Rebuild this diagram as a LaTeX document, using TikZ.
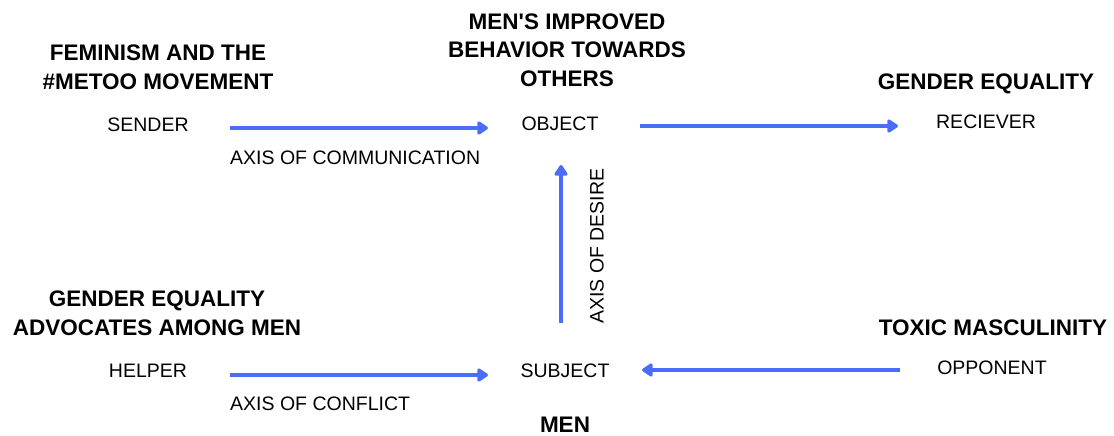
\documentclass[tikz,border=0pt]{standalone}
\usepackage{fontspec}
\setmainfont{Liberation Sans}
\usetikzlibrary{arrows.meta,calc}
\definecolor{axisblue}{RGB}{74,108,246}
\begin{document}
\begin{tikzpicture}[x=1pt,y=1pt,
  role/.style={inner sep=0pt,font=\fontsize{19.5}{23}\selectfont},
  actant/.style={inner sep=0pt,align=center,font=\bfseries\fontsize{22.5}{28.5}\selectfont},
  axislabel/.style={inner sep=0pt,font=\fontsize{19.5}{23}\selectfont},
  axis/.style={draw=axisblue,line width=4pt,-{Triangle[length=12pt,width=15pt,round]}}]
\useasboundingbox (0,0) rectangle (1114,436);

% actants and their roles
\node[actant] (objtitle) at (567,386) {MEN\textquotesingle S IMPROVED\\BEHAVIOR TOWARDS\\OTHERS};
\node[actant] (sendtitle) at (158,368.5) {FEMINISM AND THE\\\#METOO MOVEMENT};
\node[actant] (recvtitle) at (986,352) {GENDER EQUALITY};
\node[actant] (helptitle) at (157,122.5) {GENDER EQUALITY\\ADVOCATES AMONG MEN};
\node[actant] (opptitle) at (993,108) {TOXIC MASCULINITY};
\node[actant] (subjtitle) at (565,11) {MEN};

\node[role] (sender) at (148,311) {SENDER};
\node[role] (object) at (560,312) {OBJECT};
\node[role] (receiver) at (986,314) {RECIEVER};
\node[role] (helper) at (148,65) {HELPER};
\node[role] (subject) at (565,65) {SUBJECT};
\node[role] (opponent) at (992,68) {OPPONENT};

% axes
\draw[axis] ($(sender.center)+(82,-3)$) -- ($(object.center)+(-72,-4)$);
\draw[axis] ($(object.center)+(80,-2)$) -- ($(receiver.center)+(-88,-4)$);
\draw[axis] ($(helper.center)+(82,-4)$) -- ($(subject.center)+(-77,-4)$);
\draw[axis] ($(opponent.center)+(-92,-2)$) -- ($(subject.center)+(77,1)$);
\draw[axis] ($(subject.center)+(-4,48)$) -- ($(object.center)+(1,-41)$);

% axis names
\node[axislabel,anchor=west] (commlabel) at (230,278) {AXIS OF COMMUNICATION};
\node[axislabel,anchor=west] (conflabel) at (230,32) {AXIS OF CONFLICT};
\node[axislabel,rotate=90] (desirelabel) at (597,190) {AXIS OF DESIRE};
\end{tikzpicture}
\end{document}
